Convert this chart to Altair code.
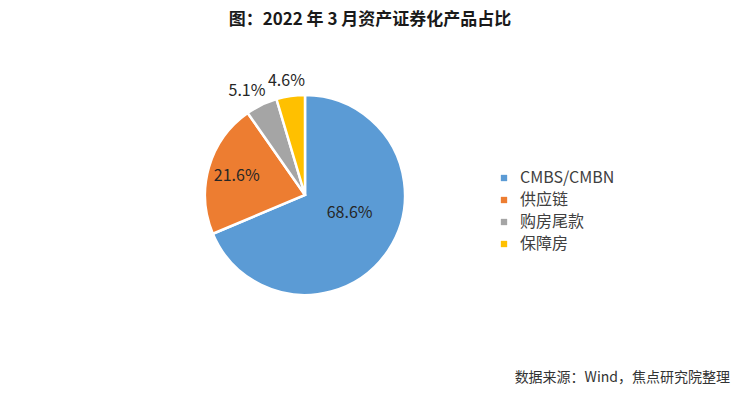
import altair as alt
import pandas as pd

categories = ["CMBS/CMBN", "供应链", "购房尾款", "保障房"]
values = [68.6, 21.6, 5.1, 4.6]
labels = ["68.6%", "21.6%", "5.1%", "4.6%"]
colors = ["#5B9BD5", "#ED7D31", "#A5A5A5", "#FFC000"]
title_text = "图：2022 年 3 月资产证券化产品占比"
source_text = "数据来源：Wind，焦点研究院整理"

FONT = "Noto Sans CJK SC"
CX, CY = 305, 195

df = pd.DataFrame({
    "cat": categories,
    "value": values,
    "label": labels,
    "idx": list(range(len(categories))),
})

base = alt.Chart(df).encode(
    theta=alt.Theta("value:Q", stack=True),
    order=alt.Order("idx:Q"),
    x=alt.value(CX),
    y=alt.value(CY),
)

pie = base.mark_arc(outerRadius=100, stroke="white", strokeWidth=2.5).encode(
    color=alt.Color(
        "cat:N",
        scale=alt.Scale(domain=categories, range=colors),
        sort=categories,
        legend=alt.Legend(
            title=None,
            orient="none",
            legendX=496,
            legendY=170,
            symbolType="square",
            symbolSize=40,
            symbolStrokeWidth=0,
            labelFont=FONT,
            labelFontSize=16,
            labelColor="#404040",
            labelOffset=8,
            rowPadding=6,
            padding=0,
        ),
    )
)


def label_layer(cat, radius, dx, dy):
    return base.mark_text(
        radius=radius, dx=dx, dy=dy, font=FONT, fontSize=16, color="#262626"
    ).encode(
        text=alt.condition(alt.datum.cat == cat, "label:N", alt.value(""))
    )


lab_layers = [
    label_layer(categories[0], 50, 3, -10),
    label_layer(categories[1], 70, -1, 0),
    label_layer(categories[2], 115, -8, 0),
    label_layer(categories[3], 115, -2, 0),
]

title = alt.Chart(pd.DataFrame({"t": [title_text]})).mark_text(
    font=FONT, fontSize=17, fontWeight="bold", color="#1a1a1a", align="center", baseline="middle"
).encode(text="t:N", x=alt.value(370), y=alt.value(20))

source = alt.Chart(pd.DataFrame({"t": [source_text]})).mark_text(
    font=FONT, fontSize=14, color="#333333", align="right", baseline="middle"
).encode(text="t:N", x=alt.value(730), y=alt.value(378))

chart = alt.layer(pie, *lab_layers, title, source).properties(
    width=740, height=394, padding=0, autosize="none", background="white"
).configure_view(stroke=None)

chart.save("out.html", embed_options={"renderer": "svg", "actions": False})
